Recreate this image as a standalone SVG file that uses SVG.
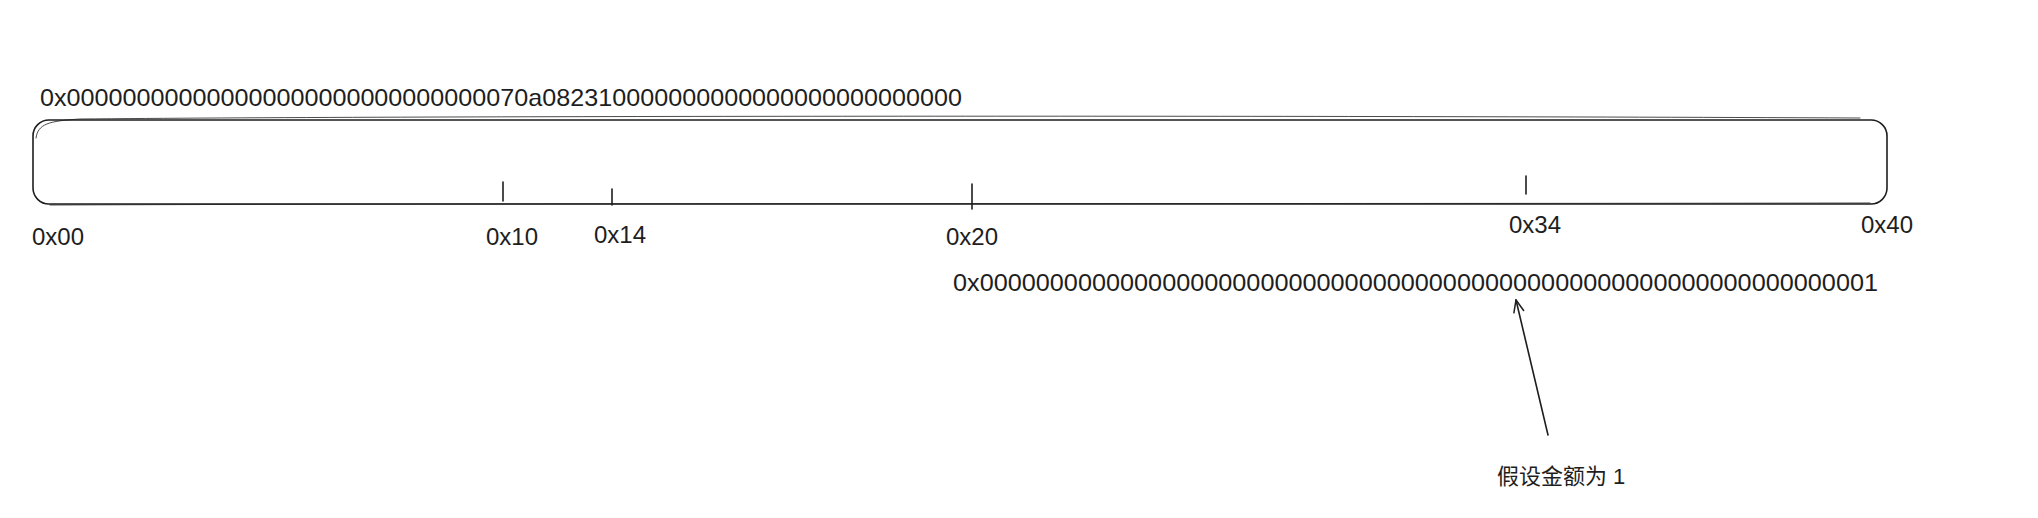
<svg xmlns="http://www.w3.org/2000/svg" width="2038" height="518" viewBox="0 0 2038 518">
<style>
.hex{font-family:"Liberation Sans","DejaVu Sans",sans-serif;font-size:24px;fill:#1e1e1e}
.lbl{font-family:"Liberation Sans","DejaVu Sans",sans-serif;font-size:24px;fill:#1e1e1e}
.cn{font-family:"Liberation Sans","Noto Sans CJK SC",sans-serif;font-size:22px;fill:#1e1e1e}
.stk{fill:none;stroke:#1e1e1e;stroke-width:1.6;stroke-linecap:round}
.thin{fill:none;stroke:#1e1e1e;stroke-width:1;stroke-linecap:round;opacity:0.8}
</style>
<defs>
<marker id="ah" markerWidth="14" markerHeight="14" refX="13" refY="7" orient="auto" markerUnits="userSpaceOnUse">
<path d="M1,2 L13,7 L1,12" fill="none" stroke="#1e1e1e" stroke-width="1.5" stroke-linecap="round"/>
</marker>
</defs>
<rect width="2038" height="518" fill="#ffffff"/>
<g id="word0">
<text class="hex" x="40" y="106" textLength="922" lengthAdjust="spacingAndGlyphs">0x000000000000000000000000000000070a082310000000000000000000000000</text>
</g>
<g id="ruler">
<rect class="stk" x="33" y="120" width="1854" height="84" rx="16" ry="16"/>
<path class="thin" d="M36,138 C38,124 48,121 80,119 C400,116 1200,115 1860,118"/>
<path class="thin" d="M50,205 C600,203 1300,204 1870,203"/>
<line class="stk" x1="503" y1="182" x2="503" y2="201"/>
<line class="stk" x1="612" y1="189" x2="612" y2="205"/>
<line class="stk" x1="972" y1="184" x2="972" y2="209"/>
<line class="stk" x1="1526" y1="176" x2="1526" y2="194"/>
</g>
<g id="labels">
<text class="lbl" x="32" y="245">0x00</text>
<text class="lbl" x="486" y="245">0x10</text>
<text class="lbl" x="594" y="243">0x14</text>
<text class="lbl" x="946" y="245">0x20</text>
<text class="lbl" x="1509" y="233">0x34</text>
<text class="lbl" x="1861" y="233">0x40</text>
</g>
<g id="word1">
<text class="hex" x="953" y="291" textLength="925" lengthAdjust="spacingAndGlyphs">0x0000000000000000000000000000000000000000000000000000000000000001</text>
</g>
<g id="note">
<text class="cn" x="1497" y="484">假设金额为 1</text>
</g>
<g id="connectors">
<line class="stk" x1="1548" y1="435" x2="1516" y2="300" marker-end="url(#ah)"/>
</g>
</svg>
